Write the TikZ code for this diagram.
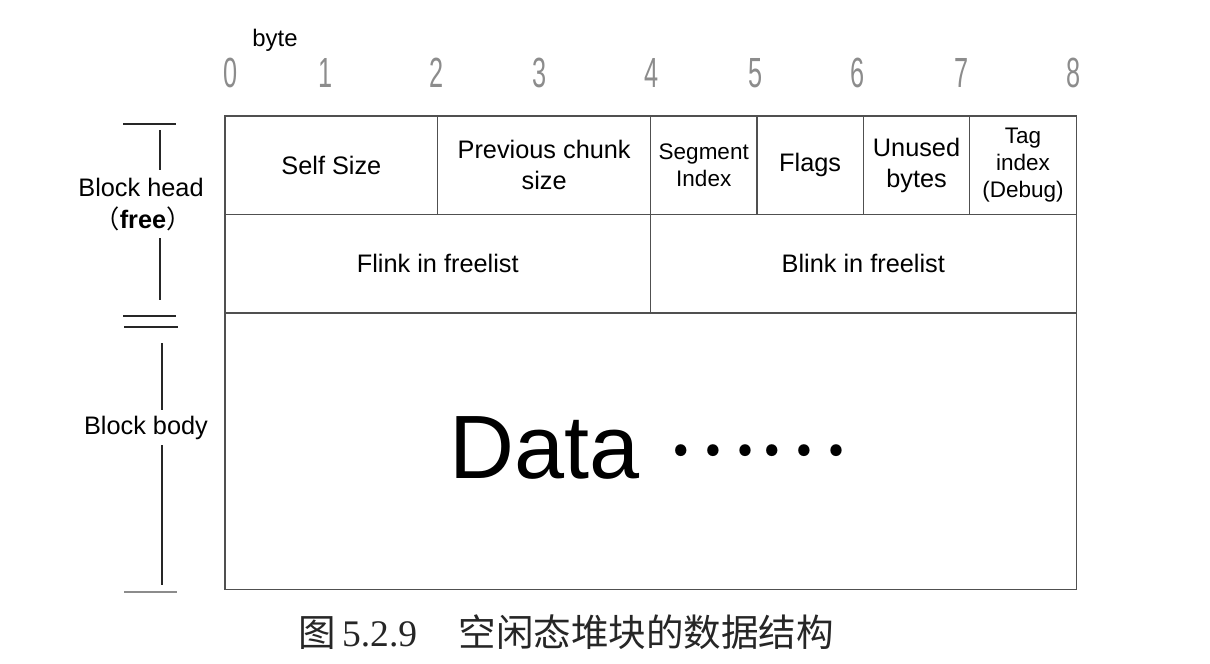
\documentclass[tikz,border=0pt]{standalone}
\usepackage{fontspec}
\setmainfont{Liberation Sans}
\newfontfamily\cjk{Noto Sans CJK SC}
\newfontfamily\capserif{Liberation Serif}
\newfontfamily\numfont[FakeStretch=0.6]{Liberation Sans}
\usetikzlibrary{positioning}
\definecolor{gridline}{HTML}{505050}
\definecolor{numgray}{HTML}{8C8C8C}

\begin{document}
\begin{tikzpicture}[x=0.025cm, y=-0.025cm,
    cell/.style={rectangle, draw=gridline, line width=0.8pt, outer sep=0pt, inner sep=0pt,
        minimum height=2.4625cm, align=center, font=\fontsize{18}{22}\selectfont},
    small/.style={font=\fontsize{16}{19}\selectfont},
    bytes/.style={minimum width=#1*2.659cm},
    tick/.style={line width=0.8pt, draw=black!85},
    side/.style={font=\fontsize{18}{22}\selectfont, align=center}
]
\useasboundingbox (0,0) rectangle (1210,664);
% byte ruler
\node[font=\fontsize{17}{20}\selectfont] (byte) at (275,40) {byte};
\foreach \n/\x in {0/231, 1/326, 2/437, 3/540, 4/652, 5/756, 6/858, 7/962, 8/1074}
    \node[font=\numfont\fontsize{30}{30}\selectfont, text=numgray] (num\n) at (\x,73) {\n};
% first row of the head
\node[cell, bytes=2, anchor=north west] (selfsize) at (225,116) {Self Size};
\node[cell, bytes=2, right=0pt of selfsize] (prevsize) {Previous chunk\\size};
\node[cell, bytes=1, small, right=0pt of prevsize] (segidx) {Segment\\Index};
\node[cell, bytes=1, right=0pt of segidx] (flags) {Flags};
\node[cell, bytes=1, right=0pt of flags] (unused) {Unused\\bytes};
\node[cell, bytes=1, small, right=0pt of unused] (tagidx) {Tag\\index\\(Debug)};
% second row
\node[cell, bytes=4, anchor=north west] (flink) at (selfsize.south west) {Flink in freelist};
\node[cell, bytes=4, right=0pt of flink] (blink) {Blink in freelist};
% body
\node[font=\fontsize{64}{64}\selectfont, inner sep=0pt, anchor=base west] (datatext) at (449,478)
    {Data\hspace{0.3em}{\cjk\fontsize{61}{61}\selectfont\raisebox{16pt}{……}}};
\node[cell, bytes=8, minimum height=6.9cm, anchor=north west] (data) at (flink.south west) {};
% left side marks
\node[side] (headlbl) at (141,187) {Block head};
\node[side] (freelbl) at (143,219) {{\cjk （}\textbf{free}{\cjk ）}};
\node[side] (bodylbl) at (146,428) {Block body};
\draw[tick] (123,124) -- (176,124);
\draw[tick] (160,130) -- (160,170);
\draw[tick] (160,238) -- (160,300);
\draw[tick] (123,316) -- (176,316);
\draw[tick] (124,327) -- (178,327);
\draw[tick] (162,343) -- (162,410);
\draw[tick] (162,445) -- (162,585);
\draw[tick, draw=black!45] (124,592) -- (177,592);
% caption
\node[anchor=west, inner sep=0pt, text=black!85, font=\fontsize{26.7}{30}\selectfont] (caption) at (298,632)
    {\cjk 图\,{\capserif 5.2.9}\hspace{1.1em}空闲态堆块的数据结构};
\end{tikzpicture}
\end{document}
